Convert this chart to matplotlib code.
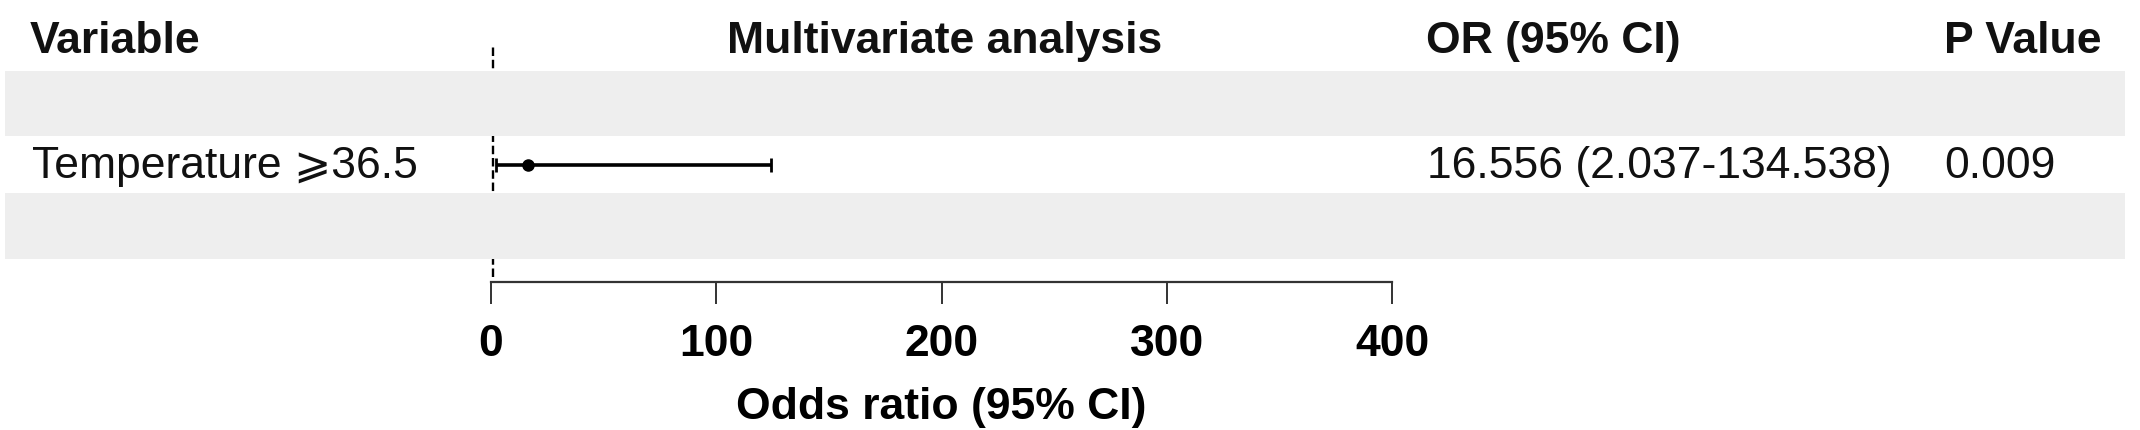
import matplotlib
matplotlib.use("Agg")
import matplotlib.pyplot as plt
from matplotlib.patches import Rectangle
from matplotlib.transforms import blended_transform_factory, offset_copy

# ---- data ----
headers = ["Variable", "Multivariate analysis", "OR (95% CI)", "P Value"]
variables = ["Temperature \u2a7e36.5"]
odds_ratio = [16.556]
ci_lower = [2.037]
ci_upper = [124.3]          # upper whisker end as drawn in the picture
or_text = ["16.556 (2.037-134.538)"]
p_values = ["0.009"]
x_ticks = [0, 100, 200, 300, 400]
x_label = "Odds ratio (95% CI)"

plt.rcParams['font.family'] = ['Liberation Sans', 'DejaVu Sans']

W, H = 2140, 430
fig = plt.figure(figsize=(W / 100, H / 100), dpi=100)

# axes: x from px 491 to 1392, y from px 46 to 282 (top-based)
ax_left, ax_right = 491, 1392
ax_top, ax_bot = 46, 282
ax = fig.add_axes([ax_left / W, (H - ax_bot) / H, (ax_right - ax_left) / W, (ax_bot - ax_top) / H])

row0_px, row_step = 42.25, 61.25
def px_to_row(p):
    return (p - row0_px) / row_step

ax.set_xlim(0, 400)
ax.set_ylim(px_to_row(ax_bot), px_to_row(ax_top))

for s in ["top", "right", "left"]:
    ax.spines[s].set_visible(False)
ax.spines["bottom"].set_color("#333333")
ax.spines["bottom"].set_linewidth(1.6)
ax.set_yticks([])
ax.set_xticks(x_ticks)
ax.set_xticklabels([str(t) for t in x_ticks], fontsize=32, fontweight="bold")
ax.tick_params(axis="x", length=16, width=1.4, color="#333333", pad=14)
ax.set_xlabel(x_label, fontsize=32, fontweight="bold", labelpad=16)

# reference line at OR = 1
ax.axvline(1, ymin=(ax_bot - 277) / (ax_bot - ax_top), ymax=1, color="black",
           lw=1.7, linestyle=(0, (3.6, 1.6)), zorder=1)

# shaded bands (rows 1 and 3)
trans_band = blended_transform_factory(fig.transFigure, ax.transData)
band_rows = [1, 3]
for r in band_rows:
    ax.add_patch(Rectangle((5 / W, r - 65 / row_step / 2), (2125 - 5) / W, 65 / row_step,
                           transform=trans_band, facecolor="#eeeeee", edgecolor="none",
                           clip_on=False, zorder=2))

# data rows start at row 2
data_rows = [2 + i * 2 for i in range(len(variables))]
for i, r in enumerate(data_rows):
    ax.errorbar(odds_ratio[i], r,
                xerr=[[odds_ratio[i] - ci_lower[i]], [ci_upper[i] - odds_ratio[i]]],
                fmt="o", color="black", ms=8, elinewidth=2.6, capsize=5, capthick=2,
                zorder=5, clip_on=False)

# texts
tr = blended_transform_factory(fig.transFigure, ax.transData)
hdr_tr = offset_copy(tr, fig=fig, x=0, y=-(53 - row0_px), units="dots")
row_tr = offset_copy(tr, fig=fig, x=0, y=-(178 - (row0_px + 2 * row_step)), units="dots")

hdr_x = [30 / W, 945 / W, 1426 / W, 1944 / W]
hdr_ha = ["left", "center", "left", "left"]
for h, x, ha in zip(headers, hdr_x, hdr_ha):
    ax.text(x, 0, h, transform=hdr_tr, ha=ha, va="baseline", fontsize=32,
            fontweight="bold", color="#111111", clip_on=False)

for i, r in enumerate(data_rows):
    ax.text(32 / W, r, variables[i], transform=row_tr, ha="left", va="baseline",
            fontsize=32, color="#111111", clip_on=False)
    ax.text(1427 / W, r, or_text[i], transform=row_tr, ha="left", va="baseline",
            fontsize=32, color="#111111", clip_on=False)
    ax.text(1944 / W, r, p_values[i], transform=row_tr, ha="left", va="baseline",
            fontsize=32, color="#111111", clip_on=False)

fig.savefig("out.png", dpi=100)
